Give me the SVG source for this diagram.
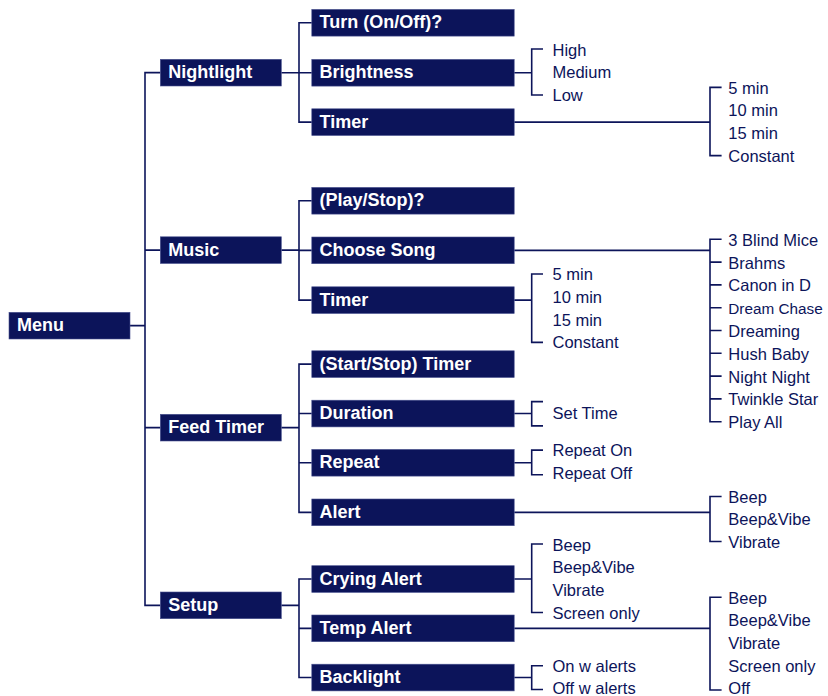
<svg xmlns="http://www.w3.org/2000/svg" width="828" height="696" viewBox="0 0 828 696">
<style>
.box{fill:#0c145a;stroke:#4a5290;stroke-width:0.6}
.bl{font-family:"Liberation Sans",Arial,sans-serif;font-weight:bold;font-size:18px;fill:#ffffff}
.lf{font-family:"Liberation Sans",Arial,sans-serif;font-size:16.5px;fill:#0c145a}
.ln{fill:none;stroke:#0c145a;stroke-width:1.6}
</style>
<rect width="828" height="696" fill="#ffffff"/>
<g id="connectors" class="ln">
<path d="M130 325.65 H145 M160.3 72.65 H145 V605.35 H160.3 M145 250.15 H160.3 M145 427.65 H160.3"/>
<path d="M281.3 72.7 H299 M311.8 22.75 H299 V122.15 H311.8 M299 72.75 H311.8"/>
<path d="M281.3 250.15 H299 M311.8 200.75 H299 V300.15 H311.8 M299 250.35 H311.8"/>
<path d="M281.3 427.65 H299 M311.8 364.15 H299 V512.35 H311.8 M299 413.55 H311.8 M299 462.75 H311.8"/>
<path d="M281.3 605.35 H299 M311.8 579.05 H299 V677.55 H311.8 M299 628.35 H311.8"/>
<path d="M514.2 72.75 H531.7 M543 49 H531.7 V95 H543"/>
<path d="M514.2 122.15 H710 M721.6 87.4 H710 V155.6 H721.6"/>
<path d="M514.2 250.35 H710 M721.6 239.3 H710 V421.7 H721.6 M710 262.1 H721.6 M710 284.9 H721.6 M710 307.7 H721.6 M710 330.5 H721.6 M710 353.3 H721.6 M710 376.1 H721.6 M710 398.9 H721.6"/>
<path d="M514.2 300.15 H531.7 M543 274 H531.7 V342.4 H543"/>
<path d="M514.2 413.55 H531.7 M543 401.6 H531.7 V425.9 H543"/>
<path d="M514.2 462.75 H531.7 M543 450.1 H531.7 V474.7 H543"/>
<path d="M514.2 512.35 H710 M721.6 496.5 H710 V541.5 H721.6"/>
<path d="M514.2 579.05 H531.7 M543 544 H531.7 V612.5 H543"/>
<path d="M514.2 628.35 H710 M721.6 597.3 H710 V690 H721.6"/>
<path d="M514.2 677.55 H531.7 M543 665.7 H531.7 V689.5 H543"/>
</g>
<g id="menu"><rect class="box" x="9" y="312.3" width="121" height="26.7"/><text class="bl" x="17" y="331.3">Menu</text></g>
<g id="nightlight"><rect class="box" x="160.3" y="59.3" width="121" height="26.7"/><text class="bl" x="168.3" y="78.3">Nightlight</text></g>
<g id="music"><rect class="box" x="160.3" y="236.8" width="121" height="26.7"/><text class="bl" x="168.3" y="255.8">Music</text></g>
<g id="feedtimer"><rect class="box" x="160.3" y="414.3" width="121" height="26.7"/><text class="bl" x="168.3" y="433.3">Feed Timer</text></g>
<g id="setup"><rect class="box" x="160.3" y="592" width="121" height="26.7"/><text class="bl" x="168.3" y="611">Setup</text></g>
<g id="turn"><rect class="box" x="311.8" y="9.4" width="202.4" height="26.7"/><text class="bl" x="319.5" y="28.4">Turn (On/Off)?</text></g>
<g id="brightness"><rect class="box" x="311.8" y="59.4" width="202.4" height="26.7"/><text class="bl" x="319.5" y="78.4">Brightness</text></g>
<g id="nltimer"><rect class="box" x="311.8" y="108.8" width="202.4" height="26.7"/><text class="bl" x="319.5" y="127.8">Timer</text></g>
<g id="playstop"><rect class="box" x="311.8" y="187.4" width="202.4" height="26.7"/><text class="bl" x="319.5" y="206.4">(Play/Stop)?</text></g>
<g id="choosesong"><rect class="box" x="311.8" y="237" width="202.4" height="26.7"/><text class="bl" x="319.5" y="256">Choose Song</text></g>
<g id="mtimer"><rect class="box" x="311.8" y="286.8" width="202.4" height="26.7"/><text class="bl" x="319.5" y="305.8">Timer</text></g>
<g id="startstop"><rect class="box" x="311.8" y="350.8" width="202.4" height="26.7"/><text class="bl" x="319.5" y="369.8">(Start/Stop) Timer</text></g>
<g id="duration"><rect class="box" x="311.8" y="400.2" width="202.4" height="26.7"/><text class="bl" x="319.5" y="419.2">Duration</text></g>
<g id="repeat"><rect class="box" x="311.8" y="449.4" width="202.4" height="26.7"/><text class="bl" x="319.5" y="468.4">Repeat</text></g>
<g id="alert"><rect class="box" x="311.8" y="499" width="202.4" height="26.7"/><text class="bl" x="319.5" y="518">Alert</text></g>
<g id="cryingalert"><rect class="box" x="311.8" y="565.7" width="202.4" height="26.7"/><text class="bl" x="319.5" y="584.7">Crying Alert</text></g>
<g id="tempalert"><rect class="box" x="311.8" y="615" width="202.4" height="26.7"/><text class="bl" x="319.5" y="634">Temp Alert</text></g>
<g id="backlight"><rect class="box" x="311.8" y="664.2" width="202.4" height="26.7"/><text class="bl" x="319.5" y="683.2">Backlight</text></g>
<g id="brightness-options" class="lf">
<text x="552.5" y="55.6">High</text><text x="552.5" y="78.3">Medium</text><text x="552.5" y="101">Low</text>
</g>
<g id="nltimer-options" class="lf">
<text x="728.3" y="93.6">5 min</text><text x="728.3" y="116.4">10 min</text><text x="728.3" y="139.2">15 min</text><text x="728.3" y="162">Constant</text>
</g>
<g id="song-options" class="lf">
<text x="728.3" y="245.7">3 Blind Mice</text><text x="728.3" y="268.5">Brahms</text><text x="728.3" y="291.3">Canon in D</text><text x="728.3" y="314.1" style="font-size:15.3px">Dream Chase</text><text x="728.3" y="336.9">Dreaming</text><text x="728.3" y="359.7">Hush Baby</text><text x="728.3" y="382.5">Night Night</text><text x="728.3" y="405.3">Twinkle Star</text><text x="728.3" y="428.1">Play All</text>
</g>
<g id="mtimer-options" class="lf">
<text x="552.5" y="280">5 min</text><text x="552.5" y="302.8">10 min</text><text x="552.5" y="325.6">15 min</text><text x="552.5" y="348.4">Constant</text>
</g>
<g id="duration-options" class="lf"><text x="552.5" y="418.6">Set Time</text></g>
<g id="repeat-options" class="lf"><text x="552.5" y="456.2">Repeat On</text><text x="552.5" y="479">Repeat Off</text></g>
<g id="alert-options" class="lf"><text x="728.3" y="502.6">Beep</text><text x="728.3" y="525.3">Beep&amp;Vibe</text><text x="728.3" y="548">Vibrate</text></g>
<g id="crying-options" class="lf"><text x="552.5" y="550.5">Beep</text><text x="552.5" y="573.2">Beep&amp;Vibe</text><text x="552.5" y="595.9">Vibrate</text><text x="552.5" y="618.6">Screen only</text></g>
<g id="temp-options" class="lf"><text x="728.3" y="603.5">Beep</text><text x="728.3" y="626.2">Beep&amp;Vibe</text><text x="728.3" y="648.9">Vibrate</text><text x="728.3" y="671.6">Screen only</text><text x="728.3" y="694.2">Off</text></g>
<g id="backlight-options" class="lf"><text x="552.5" y="671.7">On w alerts</text><text x="552.5" y="694">Off w alerts</text></g>
</svg>
